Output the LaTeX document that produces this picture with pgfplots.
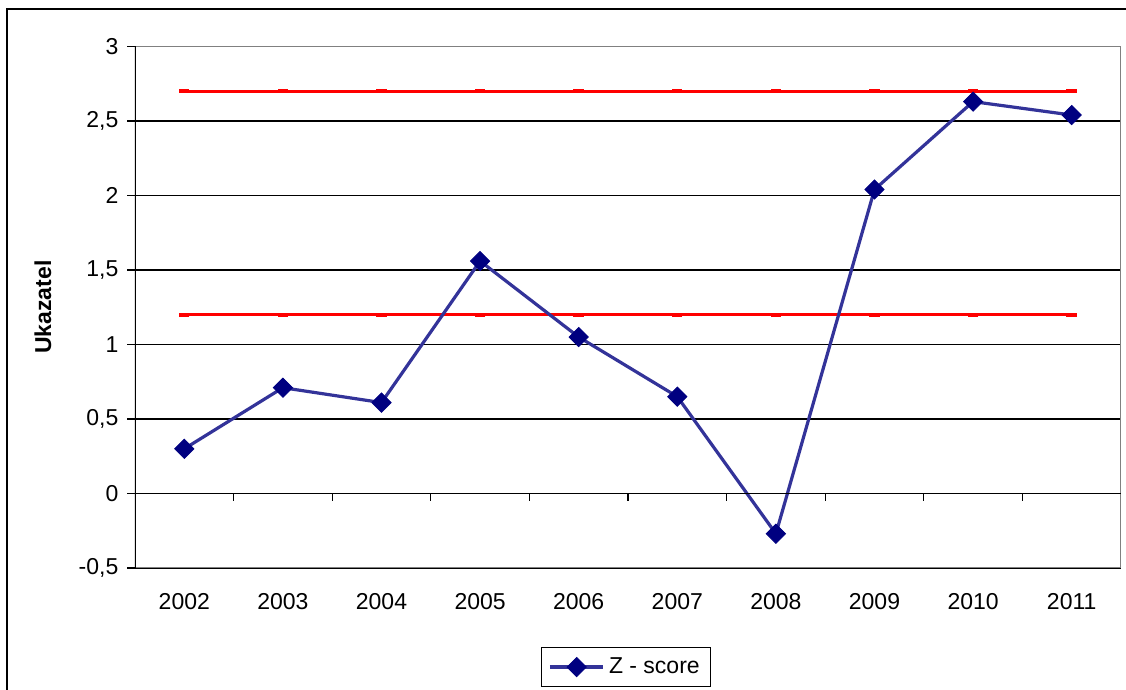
\documentclass[border=0pt]{standalone}
\usepackage{fontspec}
\setmainfont{Liberation Sans}
\usepackage{pgfplots}
\pgfplotsset{compat=1.18}
\definecolor{zline}{RGB}{51,51,153}
\definecolor{zmark}{RGB}{0,0,128}
\definecolor{limred}{RGB}{255,0,0}
\definecolor{boxgray}{RGB}{128,128,128}

\begin{document}
\begin{tikzpicture}[font=\fontsize{11.5}{13.8}\selectfont]
\useasboundingbox (0,0) rectangle (563pt,345pt);
% outer chart frame
\draw[line width=1pt] (3.5pt,-20pt) -- (3.5pt,340.5pt) -- (600pt,340.5pt);
\begin{axis}[
  at={(67.5pt,61pt)}, anchor=south west,
  scale only axis, width=493pt, height=260.75pt,
  xmin=-0.5, xmax=9.5, ymin=-0.5, ymax=3,
  xtick={0,1,2,3,4,5,6,7,8,9},
  xticklabels={2002,2003,2004,2005,2006,2007,2008,2009,2010,2011},
  x tick style={draw=none},
  ytick={-0.5,0,0.5,1,1.5,2,2.5,3},
  yticklabels={{-0,5},{0},{0,5},{1},{1,5},{2},{2,5},{3}},
  ymajorgrids, grid style={black, line width=0.6pt},
  axis line style={draw=none},
  y tick style={black, line width=0.6pt},
  tick align=outside, major tick length=3.8pt,
  ytick pos=left, xtick pos=bottom,
  tick label style={font=\fontsize{11.5}{13.8}\selectfont},
  x tick label style={anchor=north, yshift=-5.5pt},
  y tick label style={anchor=east, xshift=-1pt},
  ylabel={\textbf{Ukazatel}},
  ylabel style={at={(axis description cs:-0.0933,0.5)}, anchor=center, font=\fontsize{11.5}{13.8}\selectfont},
  legend style={at={(axis description cs:0.498,-0.19)}, anchor=center,
    draw=black, line width=0.6pt, font=\fontsize{11.5}{13.8}\selectfont,
    inner xsep=3.5pt, inner ysep=3pt},
  legend image code/.code={\draw[mark repeat=2,mark phase=2] plot coordinates {(0cm,0cm) (0.47cm,0cm) (0.94cm,0cm)};},
]
% threshold lines
\addplot[forget plot, color=limred, line width=1.5pt, mark=-, mark size=2.6pt, mark options={line width=2pt}]
  coordinates {(0,2.7) (1,2.7) (2,2.7) (3,2.7) (4,2.7) (5,2.7) (6,2.7) (7,2.7) (8,2.7) (9,2.7)};
\addplot[forget plot, color=limred, line width=1.5pt, mark=-, mark size=2.6pt, mark options={line width=2pt}]
  coordinates {(0,1.2) (1,1.2) (2,1.2) (3,1.2) (4,1.2) (5,1.2) (6,1.2) (7,1.2) (8,1.2) (9,1.2)};
% Z-score series
\addplot[color=zline, line width=1.6pt, mark=square*, mark size=3.4pt,
  mark options={fill=zmark, draw=zmark, rotate=45, line width=0.4pt}]
  coordinates {(0,0.30) (1,0.71) (2,0.61) (3,1.56) (4,1.05) (5,0.65) (6,-0.27) (7,2.04) (8,2.63) (9,2.54)};
\addlegendentry{Z - score}
% plot-area border and category axis
\draw[boxgray, line width=0.8pt] (rel axis cs:0,1) -- (rel axis cs:1,1) -- (rel axis cs:1,0) -- (rel axis cs:0,0);
\draw[black, line width=0.8pt] (rel axis cs:0,0) -- (rel axis cs:0,1);
\draw[black, line width=0.9pt] (axis cs:-0.5,0) -- (axis cs:9.5,0);
\pgfplotsinvokeforeach{0.5,1.5,2.5,3.5,4.5,5.5,6.5,7.5,8.5}{
  \draw[black, line width=0.6pt] (axis cs:#1,0) -- ++(0pt,-4pt);
}
\end{axis}
\end{tikzpicture}
\end{document}
